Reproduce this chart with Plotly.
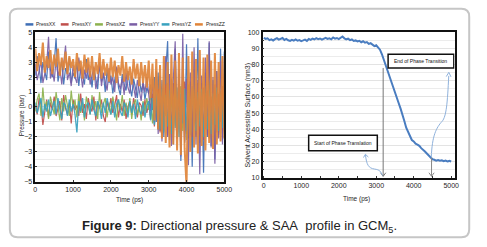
import plotly.graph_objects as go

# ---------------- data ----------------
time_ps = [i * 50 for i in range(101)]

series_names = ["PressXX", "PressXY", "PressXZ", "PressYY", "PressYZ", "PressZZ"]
series_colors = ["#3f6fb6", "#c0504d", "#8db24f", "#7b5fa5", "#3aa2bf", "#e0853a"]

press_xx = [2.1, 3.4, 2.7, 1.6, 3.0, 2.3, 1.8, 3.7, 2.5, 2.0,
            2.9, 4.6, 1.7, 2.4, 3.1, 1.5, 2.6, 2.2, 3.3, 1.6,
            2.3, 1.9, 3.0, 1.4, 2.7, 2.1, 1.5, 3.2, 1.8, 2.4,
            1.3, 2.6, 2.0, 1.2, 2.9, 1.7, 2.2, 1.0, 2.5, 1.6,
            2.1, 0.9, 1.8, 2.6, 1.3, 0.8, 2.2, 1.5, 1.1, 2.4,
            1.4, 0.7, 1.9, 1.2, 0.6, 2.0, 1.0, 1.6, 0.5, 1.3,
            0.9,
            1.5, -0.2, 2.0, -1.0, 2.3, -1.6, 1.8, -2.0, 2.4, 4.4,
            -2.2, 1.9, -2.5, 3.9, -1.8, 2.2, -3.6, 2.0, -2.3, 4.2,
            -2.1, 1.7, -4.0, 2.5, -1.9, 4.6, -2.4, 1.6, -4.4, 2.3,
            -2.0, 4.3, -2.6, 1.8, -3.5, 2.4, -1.7, 3.9, -2.2, 3.7]

press_xy = [0.1, -0.5, 0.6, 0.2, -1.2, -0.3, 0.5, -0.7, 0.3, -0.2,
            0.7, -0.6, 0.0, 0.4, -0.9, 0.8, -0.1, -0.5, 0.3, -1.1,
            0.5, -0.2, 0.1, -0.6, 0.9, -0.4, 0.2, -0.8, 0.6, 0.0,
            -0.3, 0.7, -0.9, 0.3, -0.1, 0.5, -0.6, -1.0, 0.4, -0.2,
            0.6, -0.4, 0.1, 0.8, -0.7, 0.2, -0.3, 0.5, -0.8, 0.0,
            0.4, -0.5, 0.6, -0.2, -0.7, 0.3, 0.1, -0.6, 0.5, -0.4,
            0.2,
            -0.8, 0.9, -1.3, 0.4, 1.2, -1.7, 0.6, -1.1, 1.5, -1.9,
            0.8, -1.4, 1.6, -0.5, -2.1, 1.2, -1.6, 0.9, 1.7, -1.8,
            -0.7, 1.4, -2.0, 1.0, -1.3, 1.6, -1.9, 0.5, 1.3, -1.5,
            1.1, -2.1, 0.7, -1.2, 1.5, -1.7, 0.9, -1.0, 1.4, -1.6]

press_xz = [-0.3, 0.5, 0.9, -0.6, 1.3, -0.2, 0.4, -0.8, 0.7, 0.1,
            -0.5, 1.0, 0.2, -0.9, 0.6, -0.3, 0.8, 0.0, -0.6, 1.1,
            -0.1, 0.5, -0.7, 0.9, -0.4, 0.3, -0.9, 0.7, 0.1, -0.5,
            0.8, -0.2, 0.4, -0.8, 1.0, -0.4, 0.2, 0.6, -0.7, 0.3,
            -0.5, 0.7, 0.0, -0.9, 0.5, -0.2, 0.8, -0.6, 0.3, -0.4,
            0.6, -0.8, 0.2, 0.5, -0.5, 0.1, -0.9, 0.4, -0.3, 0.6,
            -0.2,
            1.0, -1.1, 0.5, 1.4, -1.5, 0.7, -1.8, 1.3, -0.6, 1.6,
            -1.9, 0.9, -1.3, 1.7, -2.0, 0.6, 1.4, -1.6, 1.1, -2.2,
            1.5, -0.8, -1.7, 1.2, -2.0, 1.6, -1.1, 0.8, -1.8, 1.4,
            -1.3, 1.7, -2.1, 0.6, -1.5, 1.3, -1.9, 1.1, -0.9, 1.5]

press_yy = [2.9, 1.8, 2.4, 3.1, 1.6, 2.2, 2.8, 4.7, 1.9, 2.5,
            1.7, 3.2, 2.1, 2.6, 1.5, 2.9, 4.1, 1.8, 2.3, 1.4,
            2.8, 2.0, 1.6, 3.3, 2.2, 1.3, 2.5, 1.9, 2.9, 1.5,
            2.1, 2.7, 1.2, 1.8, 3.0, 1.4, 2.3, 1.7, 1.1, 2.6,
            1.5, 2.0, 1.0, 2.7, 1.6, 1.2, 1.9, 0.8, 2.3, 1.3,
            0.9, 2.1, 1.4, 0.6, 1.8, 1.1, 0.4, 1.7, 1.0, 2.0,
            0.6,
            -0.3, 1.9, -1.1, 2.4, -1.8, 2.1, -2.3, 1.7, 3.4, -2.0,
            2.2, -2.6, 1.8, 4.4, -2.1, 2.5, -3.3, 4.9, -2.4, 1.9,
            -3.9, 2.3, -2.0, 4.0, -2.5, 1.8, -4.5, 2.1, -2.2, 3.3,
            -1.9, 4.4, -2.7, 2.0, -3.8, 2.4, -2.1, 3.1, -2.5, 2.2]

press_yz = [0.3, -0.4, 0.1, 0.6, -0.7, 0.2, -0.3, 0.5, -0.6, 0.0,
            0.4, -0.5, 0.6, -0.2, -0.8, 0.3, 0.1, -0.6, 0.5, -0.3,
            0.2, -0.5, -1.7, 0.4, -0.3, 0.6, -0.7, 0.1, 0.3, -0.5,
            0.5, -0.2, -0.6, 0.4, 0.0, -0.8, 0.3, -0.4, 0.6, -0.1,
            -0.5, 0.4, -0.7, 0.2, 0.5, -0.3, -0.6, 0.3, 0.0, -0.7,
            0.4, -0.4, 0.2, -0.8, 0.5, -0.2, -0.5, 0.3, -0.7, 0.1,
            0.4,
            -0.9, 0.6, -1.2, 1.0, -0.4, -1.5, 1.2, -1.7, 0.8, -1.3,
            1.1, -1.8, 0.5, -1.4, 1.3, -2.0, 0.9, -1.1, 1.2, -1.6,
            0.7, -1.9, 1.4, -0.8, -1.6, 1.0, -1.3, 1.2, -2.0, 0.6,
            -1.5, 1.1, -1.8, 0.9, -1.2, 1.3, -1.6, 0.8, -1.4, 1.0]

press_zz = [3.9, 2.4, 3.6, 2.8, 4.3, 2.3, 3.4, 2.6, 3.8, 2.2,
            3.5, 2.7, 3.9, 2.1, 3.3, 2.5, 3.7, 2.2, 3.4, 2.6,
            3.2, 2.0, 3.6, 2.4, 3.1, 1.9, 3.5, 2.3, 3.3, 2.0,
            3.4, 1.8, 3.0, 2.2, 3.6, 1.9, 3.2, 2.1, 2.9, 1.7,
            3.3, 2.0, 3.1, 1.6, 2.8, 2.1, 3.4, 1.7, 3.0, 1.8,
            2.7, 1.5, 3.2, 1.9, 2.9, 1.4, 3.0, 1.6, 2.8, 1.3,
            3.1,
            0.6, 2.9, -0.9, 3.2, -1.5, 2.8, -2.1, 3.4, -2.4, 3.0,
            -2.7, 3.5, -2.5, 3.1, -2.9, 3.6, -3.2, 3.3, -2.8, -5.3,
            3.4, -3.0, 3.7, -2.7, 3.2, -3.1, 3.8, -2.6, 3.3, -2.9,
            3.5, -2.4, 3.1, -2.8, 3.6, -2.5, 3.0, -2.3, 3.4, -2.1]

saa_nm3 = [96.5, 95.8, 96.2, 95.1, 95.6, 94.9, 95.7, 96.3, 95.4, 95.9,
           96.4, 95.2, 95.8, 95.0, 94.6, 95.3, 94.8, 95.5, 94.7, 95.1,
           94.5, 94.9, 95.4, 94.6, 95.8, 95.2, 96.0, 95.5, 96.3, 95.7,
           96.1, 95.4, 95.9, 96.5, 95.8, 96.2, 95.6, 96.7, 96.0, 96.4,
           95.7, 96.8, 97.3, 96.2, 95.6, 96.0, 95.1, 95.5, 94.6, 94.9,
           94.3, 94.7, 93.8, 94.4, 93.5, 93.9, 92.8, 93.2, 92.1, 91.4,
           91.9, 90.8, 89.2, 86.5, 83.0, 79.2, 76.4, 73.1, 69.8, 66.3,
           62.4, 59.0, 56.1, 52.8, 49.6, 45.2, 41.0, 38.1, 35.6, 33.4,
           32.5, 31.1, 30.6, 29.8, 28.4, 27.6, 26.3, 25.1, 24.0, 22.6,
           21.5, 21.2, 20.7, 21.0, 20.6, 20.9, 20.3, 20.7, 20.2, 20.5,
           20.1]

press_ticks = [-5, -4, -3, -2, -1, 0, 1, 2, 3, 4, 5]
time_ticks = [0, 1000, 2000, 3000, 4000, 5000]
saa_ticks = [10, 20, 30, 40, 50, 60, 70, 80, 90, 100]

# ---------------- figure ----------------
W, H = 487, 247
def PX(x):
    return x / W
def PY(y):
    return 1 - y / H

FONT = "Arial, Liberation Sans, sans-serif"
TXT = "#1e1e1e"

fig = go.Figure()
all_press = [press_xx, press_xy, press_xz, press_yy, press_yz, press_zz]
widths = [1.2, 1.2, 1.2, 1.2, 1.3, 2.0]
for name, col, vals, lw in zip(series_names, series_colors, all_press, widths):
    fig.add_trace(go.Scatter(x=time_ps, y=vals, mode="lines", name=name,
                             line=dict(color=col, width=lw), opacity=0.92,
                             xaxis="x", yaxis="y", showlegend=False))

fig.add_trace(go.Scatter(x=time_ps, y=saa_nm3, mode="lines", name="SAA",
                         line=dict(color="#4a7dc0", width=2),
                         xaxis="x2", yaxis="y2", showlegend=False))

axis_common = dict(showline=True, linecolor="#111", linewidth=1.5, mirror=True,
                   zeroline=False, ticks="inside", ticklen=2, tickcolor="#333",
                   tickfont=dict(family=FONT, size=7, color=TXT))

fig.update_layout(
    width=W, height=H, autosize=False,
    margin=dict(l=0, r=0, t=0, b=0),
    paper_bgcolor="white", plot_bgcolor="white",
    xaxis=dict(domain=[PX(34), PX(227)], range=[0, 5000], tickvals=time_ticks,
               showgrid=False, anchor="y", **axis_common),
    yaxis=dict(domain=[PY(183), PY(29)], range=[-5, 5], tickvals=press_ticks,
               showgrid=True, gridcolor="#e3e3e3", gridwidth=1,
               minor=dict(dtick=0.5, showgrid=True, gridcolor="#ececec"),
               anchor="x", **axis_common),
    xaxis2=dict(domain=[PX(266), PX(462)], range=[-34, 5089], tickvals=time_ticks,
                showgrid=False, anchor="y2",
                minor=dict(dtick=500, ticks="inside", ticklen=2, tickcolor="#333"),
                **axis_common),
    yaxis2=dict(domain=[PY(179), PY(29)], range=[10, 100], tickvals=saa_ticks,
                showgrid=True, gridcolor="#e3e3e3", gridwidth=1,
                minor=dict(dtick=5, showgrid=True, gridcolor="#ececec",
                           ticks="inside", ticklen=1.5, tickcolor="#333"),
                anchor="x2", **axis_common),
)

shapes = []
annotations = []

# outer rounded frame
x0, x1, y0, y1, r = 8, 477, 5, 240, 8
path = (f"M {PX(x0+r)},{PY(y0)} L {PX(x1-r)},{PY(y0)} Q {PX(x1)},{PY(y0)} {PX(x1)},{PY(y0+r)} "
        f"L {PX(x1)},{PY(y1-r)} Q {PX(x1)},{PY(y1)} {PX(x1-r)},{PY(y1)} "
        f"L {PX(x0+r)},{PY(y1)} Q {PX(x0)},{PY(y1)} {PX(x0)},{PY(y1-r)} "
        f"L {PX(x0)},{PY(y0+r)} Q {PX(x0)},{PY(y0)} {PX(x0+r)},{PY(y0)} Z")
shapes.append(dict(type="path", xref="paper", yref="paper", path=path,
                   line=dict(color="#c6c6c6", width=2), layer="below"))

# manual legend
leg_x = [24, 60, 95, 130, 163, 197]
for lx, name, col in zip(leg_x, series_names, series_colors):
    shapes.append(dict(type="line", xref="paper", yref="paper",
                       x0=PX(lx), x1=PX(lx + 8), y0=PY(21), y1=PY(21),
                       line=dict(color=col, width=2.5)))
    annotations.append(dict(xref="paper", yref="paper", x=PX(lx + 9), y=PY(21),
                            text=name, showarrow=False, xanchor="left", yanchor="middle",
                            font=dict(family=FONT, size=5, color=TXT)))

def centered(**kw):
    d = dict(showarrow=False, xanchor="center", yanchor="middle")
    d.update(kw)
    return d

# axis titles
annotations += [
    centered(xref="paper", yref="paper", x=PX(130), y=PY(202), text="Time (ps)",
             font=dict(family=FONT, size=6.5, color=TXT)),
    centered(xref="paper", yref="paper", x=PX(362), y=PY(201), text="Time (ps)",
             font=dict(family=FONT, size=6.5, color=TXT)),
    centered(xref="paper", yref="paper", x=PX(20), y=PY(115), text="Pressure (bar)",
             textangle=-90, font=dict(family=FONT, size=6.5, color=TXT)),
    centered(xref="paper", yref="paper", x=PX(251), y=PY(114),
             text="Solvent Accessible Surface (nm3)",
             textangle=-90, font=dict(family=FONT, size=7, color=TXT)),
]

# phase-transition boxes
shapes.append(dict(type="rect", xref="x2", yref="y2", x0=3317, x1=5071, y0=77.9, y1=86.3,
                   line=dict(color="#111", width=1.5), fillcolor="white"))
annotations.append(centered(xref="x2", yref="y2", x=4194, y=82.1, text="End of Phase Transition",
                            font=dict(family=FONT, size=5, color="#111")))
shapes.append(dict(type="rect", xref="x2", yref="y2", x0=1197, x1=3029, y0=26.8, y1=36.4,
                   line=dict(color="#111", width=1.5), fillcolor="white"))
annotations.append(centered(xref="x2", yref="y2", x=2113, y=31.6, text="Start of Phase Translation",
                            font=dict(family=FONT, size=5, color="#111")))

# vertical gray arrows (lines + chevron heads)
for vx, vtop, col in [(3185, 77.9, "#777"), (4476, 22.5, "#888")]:
    shapes.append(dict(type="line", xref="x2", yref="y2", x0=vx, x1=vx, y0=vtop, y1=11,
                       line=dict(color=col, width=1)))
    shapes.append(dict(type="path", xref="x2", yref="y2",
                       path=f"M {vx-70},13.2 L {vx},11 L {vx+70},13.2",
                       line=dict(color=col, width=1)))

# curvy light-blue arrows
ARROW_BLUE = "#8fb2dc"
shapes.append(dict(type="path", xref="x2", yref="y2",
                   path="M 2712,24.4 C 2740,18 2800,16 2950,15.5 S 3120,14 3165,11.5",
                   line=dict(color=ARROW_BLUE, width=1)))
shapes.append(dict(type="path", xref="x2", yref="y2",
                   path="M 2660,22.6 L 2712,24.6 L 2790,22.9",
                   line=dict(color=ARROW_BLUE, width=1)))
shapes.append(dict(type="path", xref="x2", yref="y2",
                   path="M 4469,22.6 C 4490,36 4600,41 4760,45 C 4870,48 4900,56 4935,73",
                   line=dict(color=ARROW_BLUE, width=1)))
shapes.append(dict(type="path", xref="x2", yref="y2",
                   path="M 4870,72.6 L 4937,75.2 L 4995,72.4",
                   line=dict(color=ARROW_BLUE, width=1)))

# caption
annotations.append(centered(xref="paper", yref="paper", x=PX(242), y=PY(229),
                            text="<b>Figure 9:</b> Directional pressure &amp; SAA&nbsp; profile in GCM<sub>5</sub>.",
                            font=dict(family=FONT, size=13, color="#222")))

fig.update_layout(shapes=shapes, annotations=annotations)
fig.write_html("out.html", config={"displayModeBar": False},
               post_script="document.body.style.margin='0';document.body.style.overflow='hidden';")
